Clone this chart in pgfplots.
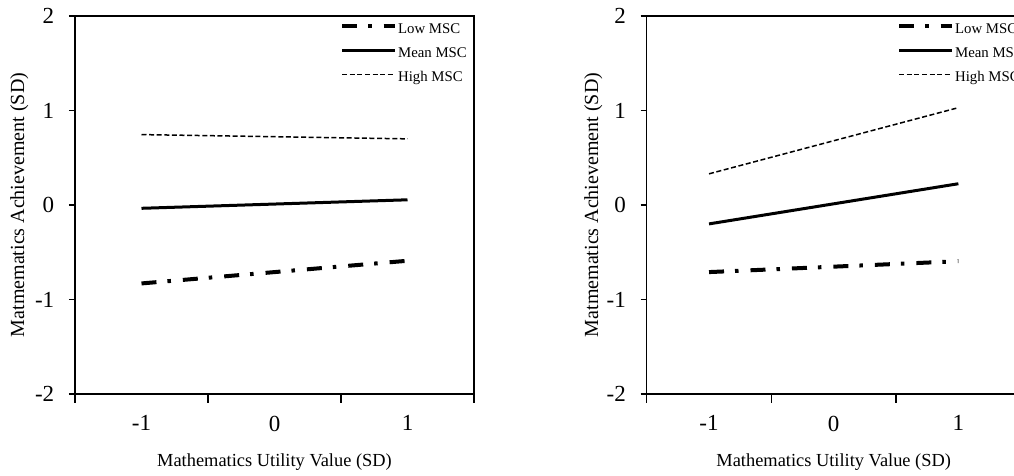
\documentclass[border=0pt]{standalone}
\usepackage{fontspec}
\setmainfont{Liberation Serif}
\usepackage{pgfplots}
\pgfplotsset{compat=1.18}
\pgfplotsset{
 common/.style={
  scale only axis, height=378pt, ymin=-2, ymax=2, xmin=-1.5, xmax=1.5,
  axis line style={line width=1.2pt},
  tick align=outside,
  xtick pos=bottom, ytick pos=left,
  xtick={-1.5,-0.5,0.5,1.5}, xticklabels={-1,0,1,{}},
  ytick={-2,-1,0,1,2}, yticklabels={-2,-1,0,1,2},
  tick style={line width=1.2pt, black},
  xtick style={/pgfplots/major tick length=9pt},
  ytick style={/pgfplots/major tick length=6pt},
  ticklabel style={font=\fontsize{23}{25}\selectfont},
  yticklabel style={xshift=-13pt},
  xlabel style={font=\fontsize{18.4}{21}\selectfont},
  ylabel style={font=\fontsize{20}{22}\selectfont},
  xlabel={Mathematics Utility Value (SD)},
  ylabel={Matmematics Achievement (SD)},
  xlabel style={at={(axis description cs:0.5,-0.1931)}, anchor=base},
  legend cell align=left,
  legend style={draw=none, fill=none, font=\fontsize{14.8}{16}\selectfont,
    inner sep=0pt, row sep=11pt, column sep=1pt, anchor=north west,
    nodes={inner sep=0pt, text height=10pt, text depth=3pt, font=\fontsize{14.8}{16}\selectfont}},
  legend image code/.code={\draw[##1] (0pt,3.5pt) -- (53pt,3.5pt);},
 },
 low/.style={black, line width=4pt, dash pattern=on 15pt off 11pt on 3.5pt off 12pt},
 mean/.style={black, line width=3pt},
 high/.style={black, line width=1.5pt, dash pattern=on 5pt off 2.6pt},
}
\begin{document}
\begin{tikzpicture}
\useasboundingbox (0pt,0pt) rectangle (1014pt,476pt);
\begin{pgfinterruptboundingbox}
\clip (0pt,0pt) rectangle (1014pt,476pt);
\begin{axis}[common, width=399pt, at={(75pt,82pt)}, anchor=south west,
  xticklabel style={xshift=66.5pt, yshift=-14pt},
  ylabel style={at={(axis description cs:-0.1278,0.5)}, anchor=base},
  legend style={at={(axis description cs:0.664,0.981)}}]
\addplot[low] coordinates {(-1,-0.83) (1,-0.59)};
\addlegendentry{Low MSC}
\addplot[mean] coordinates {(-1,-0.035) (1,0.055)};
\addlegendentry{Mean MSC}
\addplot[high] coordinates {(-1,0.745) (1,0.70)};
\addlegendentry{High MSC}
\end{axis}
\begin{axis}[common, width=374pt, at={(646.7pt,82pt)}, anchor=south west,
  xticklabel style={xshift=62.33pt, yshift=-14pt},
  ylabel style={at={(axis description cs:-0.1297,0.5)}, anchor=base},
  legend style={at={(axis description cs:0.669,0.981)}}]
\addplot[low] coordinates {(-1,-0.71) (1,-0.595)};
\addlegendentry{Low MSC}
\addplot[mean] coordinates {(-1,-0.20) (1,0.225)};
\addlegendentry{Mean MSC}
\addplot[high] coordinates {(-1,0.33) (1,1.03)};
\addlegendentry{High MSC}
\end{axis}
\end{pgfinterruptboundingbox}
\end{tikzpicture}
\end{document}
